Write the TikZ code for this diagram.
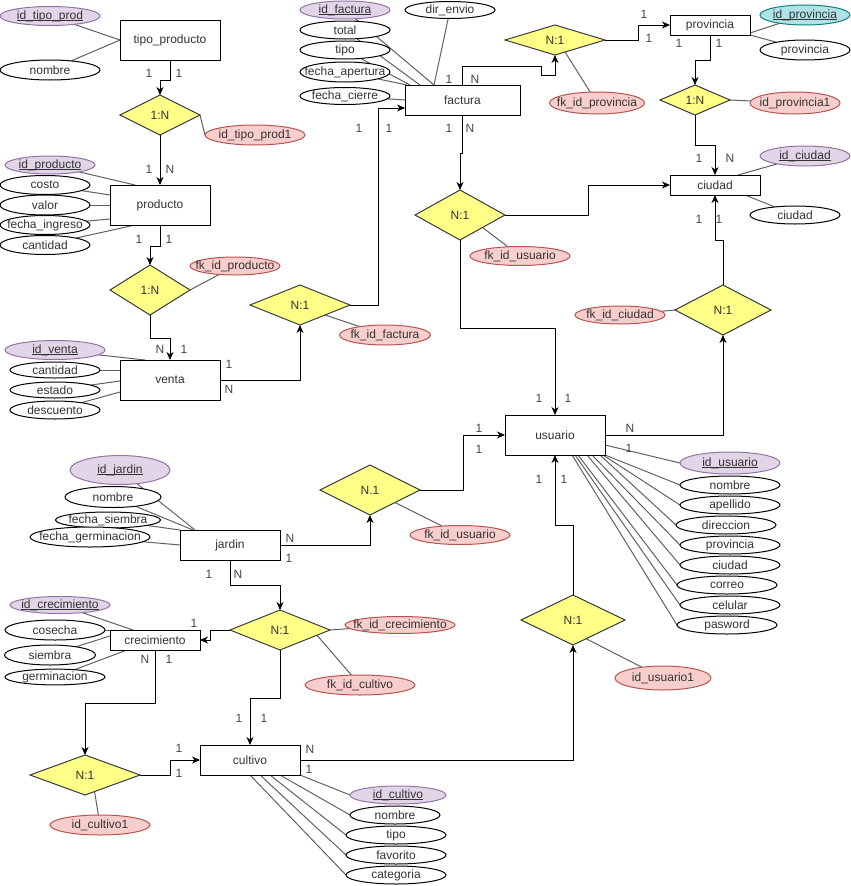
\documentclass[tikz,border=0pt]{standalone}
\usepackage{fontspec}
\setmainfont{Liberation Sans}
\usetikzlibrary{shapes.geometric,arrows.meta}
\definecolor{purpF}{HTML}{E1D5E7}
\definecolor{purpD}{HTML}{9673A6}
\definecolor{redF}{HTML}{F8CECC}
\definecolor{redD}{HTML}{B85450}
\definecolor{yelF}{HTML}{FFFF88}
\definecolor{yelD}{HTML}{36393D}
\definecolor{cyF}{HTML}{B0E3E6}
\definecolor{cyD}{HTML}{0E8088}
\definecolor{txt}{HTML}{333333}
\pgfdeclarelayer{links}
\pgfsetlayers{links,main}
\newcommand\atxt[1]{\makebox[0pt]{#1}}
% key attributes: a rule through the underscores, as an underline
\newcommand\ukey[1]{\makebox[0pt]{\setbox0\hbox{#1}\rlap{\rule[-2.1pt]{\wd0}{0.8pt}}\box0}}
\begin{document}
\begin{tikzpicture}[x=1pt,y=-1pt,
  font=\fontsize{12}{14}\selectfont,
  ent/.style 2 args={draw=black, fill=white, line width=1pt, minimum width=#1pt, minimum height=#2pt, inner sep=0pt, outer sep=0pt, text=txt},
  rel/.style 2 args={diamond, draw=yelD, fill=yelF, line width=1pt, minimum width=#1pt, minimum height=#2pt, inner sep=0pt, outer sep=0pt, text=txt},
  att/.style 2 args={ellipse, draw=black, fill=white, line width=1pt, minimum width=#1pt, minimum height=#2pt, inner sep=0pt, outer sep=0pt, text=txt},
  pk/.style 2 args={att={#1}{#2}, draw=purpD, fill=purpF},
  pkc/.style 2 args={att={#1}{#2}, draw=cyD, fill=cyF},
  fk/.style 2 args={att={#1}{#2}, draw=redD, fill=redF},
  lnk/.style={draw=black!62, line width=1pt},
  conn/.style={draw=black, line width=1pt, -{Stealth[length=8pt,width=7pt,inset=2.5pt]}},
  lbl/.style={inner sep=0pt, text=black!72}
]
\begin{pgfonlayer}{links}
\fill[white] (0,0) rectangle (851,886);
\end{pgfonlayer}
\useasboundingbox (0,0) rectangle (851,886);

% ---------- entities ----------
\node[ent={100}{40}] (tp) at (170,40) {tipo\_producto};
\node[ent={100}{40}] (pr) at (160,205) {producto};
\node[ent={100}{40}] (ve) at (170,380) {venta};
\node[ent={115}{30}] (fa) at (462.5,100) {factura};
\node[ent={80}{20}] (pv) at (710,25) {provincia};
\node[ent={90}{20}] (ci) at (715,185) {ciudad};
\node[ent={100}{40}] (us) at (555,435) {usuario};
\node[ent={100}{30}] (ja) at (230,545) {jardin};
\node[ent={90}{20}] (cr) at (155,640) {crecimiento};
\node[ent={100}{30}] (cu) at (250,760) {cultivo};

% ---------- relationships ----------
\node[rel={80}{40}] (r1) at (160,115) {1:N};
\node[rel={80}{50}] (r2) at (150,290) {1:N};
\node[rel={100}{40}] (r3) at (300,305) {N:1};
\node[rel={100}{30}] (r4) at (555,40) {N:1};
\node[rel={70}{30}] (r5) at (695,100) {1:N};
\node[rel={90}{50}] (r6) at (460,215) {N:1};
\node[rel={96}{50}] (r7) at (723,310) {N:1};
\node[rel={100}{50}] (r8) at (370,490) {N.1};
\node[rel={100}{40}] (r9) at (280,630) {N:1};
\node[rel={110}{40}] (r10) at (85,775) {N:1};
\node[rel={104}{50}] (r11) at (573,620) {N:1};

% ---------- attribute ellipses ----------
\node[pk={100}{19}] (tpk) at (50,16) {\ukey{id\_tipo\_prod}};
\node[att={100}{20}] (tpnom) at (50,70) {\atxt{nombre}};
\node[fk={100}{20}] (fk1) at (255,135) {\atxt{id\_tipo\_prod1}};

\node[pk={90}{18}] (prk) at (50,165) {\ukey{id\_producto}};
\node[att={90}{19}] (prco) at (45,185) {\atxt{costo}};
\node[att={90}{20}] (prva) at (45,205) {\atxt{valor}};
\node[att={90}{19}] (prfe) at (45,225) {\atxt{fecha\_ingreso}};
\node[att={90}{19}] (prca) at (45,245) {\atxt{cantidad}};
\node[fk={90}{18}] (fk2) at (235,266) {\atxt{fk\_id\_producto}};

\node[pk={100}{19}] (vek) at (55,350) {\ukey{id\_venta}};
\node[att={90}{16}] (veca) at (55,370) {\atxt{cantidad}};
\node[att={90}{16}] (vees) at (55,390) {\atxt{estado}};
\node[att={90}{18}] (vede) at (55,410) {\atxt{descuento}};
\node[fk={91}{20}] (fk3) at (385,335) {\atxt{fk\_id\_factura}};

\node[pk={90}{18}] (fak) at (345,10) {\ukey{id\_factura}};
\node[att={90}{18}] (fato) at (345,30) {\atxt{total}};
\node[att={90}{18}] (fati) at (345,50) {\atxt{tipo}};
\node[att={90}{20}] (faap) at (345,72) {\atxt{fecha\_apertura}};
\node[att={90}{17}] (faci) at (345,96) {\atxt{fecha\_cierre}};
\node[att={90}{17}] (fadi) at (450,10) {\atxt{dir\_envio}};
\node[fk={95}{22}] (fk4) at (597,103) {\atxt{fk\_id\_provincia}};

\node[pkc={90}{20}] (pvk) at (805,15) {\ukey{id\_provincia}};
\node[att={90}{20}] (pvpv) at (805,50) {\atxt{provincia}};
\node[fk={90}{22}] (fk5) at (795,103) {\atxt{id\_provincia1}};
\node[pk={90}{20}] (cik) at (805,156) {\ukey{id\_ciudad}};
\node[att={90}{18}] (cici) at (795,215) {\atxt{ciudad}};
\node[fk={100}{19}] (fk6) at (520,256) {\atxt{fk\_id\_usuario}};
\node[fk={90}{18}] (fk7) at (620,315) {\atxt{fk\_id\_ciudad}};

\node[pk={100}{22}] (usk) at (730,463) {\ukey{id\_usuario}};
\node[att={100}{18}] (usno) at (730,485) {\atxt{nombre}};
\node[att={100}{18}] (usap) at (730,505) {\atxt{apellido}};
\node[att={100}{18}] (usdi) at (726,525) {\atxt{direccion}};
\node[att={100}{18}] (uspr) at (730,545) {\atxt{provincia}};
\node[att={100}{18}] (usci) at (730,565) {\atxt{ciudad}};
\node[att={100}{18}] (usco) at (727,585) {\atxt{correo}};
\node[att={100}{18}] (usce) at (730,605) {\atxt{celular}};
\node[att={100}{18}] (uspa) at (727,625) {\atxt{pasword}};

\node[pk={100}{29}] (jak) at (120,470) {\ukey{id\_jardin}};
\node[att={96}{21}] (jano) at (113,497) {\atxt{nombre}};
\node[att={105}{16}] (jasi) at (108,520) {\atxt{fecha\_siembra}};
\node[att={120}{20}] (jage) at (90,537) {\atxt{fecha\_germinacion}};
\node[fk={100}{19}] (fk8) at (460,535) {\atxt{fk\_id\_usuario}};

\node[pk={100}{17}] (crk) at (60,605) {\ukey{id\_crecimiento}};
\node[att={100}{20}] (crco) at (55,630) {\atxt{cosecha}};
\node[att={91}{20}] (crsi) at (50,655) {\atxt{siembra}};
\node[att={100}{15}] (crge) at (55,677) {\atxt{germinacion}};
\node[fk={110}{17}] (fk9) at (400,625) {\atxt{fk\_id\_crecimiento}};
\node[fk={110}{20}] (fk10) at (360,685) {\atxt{fk\_id\_cultivo}};
\node[fk={100}{20}] (fk11) at (100,825) {\atxt{id\_cultivo1}};

\node[pk={96}{18}] (cuk) at (398,795) {\ukey{id\_cultivo}};
\node[att={90}{18}] (cuno) at (395,815) {\atxt{nombre}};
\node[att={100}{18}] (cuti) at (396,835) {\atxt{tipo}};
\node[att={100}{18}] (cufa) at (396,855) {\atxt{favorito}};
\node[att={100}{18}] (cuca) at (396,875) {\atxt{categoria}};
\node[fk={96}{24}] (fk12) at (663,678) {\atxt{id\_usuario1}};

% ---------- attribute links (behind the shapes) ----------
\begin{pgfonlayer}{links}
\draw[lnk] (tpk) -- (tp.west);
\draw[lnk] (tpnom) -- (tp.west);
\draw[lnk] (r1.east) -- (fk1.west);

\draw[lnk] (prk) -- ([xshift=25pt]pr.north west);
\draw[lnk] (prco) -- ([yshift=-10pt]pr.north west);
\draw[lnk] (prva) -- (pr.west);
\draw[lnk] (prfe) -- ([yshift=6pt]pr.south west);
\draw[lnk] (prca) -- ([xshift=25pt]pr.south west);
\draw[lnk] (r2.east) -- (fk2);

\draw[lnk] (vek) -- ([xshift=25pt]ve.north west);
\draw[lnk] (veca) -- ([yshift=-10pt]ve.north west);
\draw[lnk] (vees) -- ([yshift=-21pt]ve.north west);
\draw[lnk] (vede) -- ([yshift=8pt]ve.south west);
\draw[lnk] (r3.south east) -- (fk3);

\draw[lnk] (fak) -- ([xshift=29pt]fa.north west);
\draw[lnk] (fato) -- ([xshift=15pt]fa.north west);
\draw[lnk] (fati) -- ([xshift=5pt]fa.north west);
\draw[lnk] (faap) -- ([xshift=2pt]fa.north west);
\draw[lnk] (faci) -- (fa.west);
\draw[lnk] (fadi) -- ([xshift=29pt]fa.north west);
\draw[lnk] (r4.-50) -- (fk4);

\draw[lnk] (pvk) -- ([yshift=2pt]pv.south east);
\draw[lnk] (pvpv) -- (pv.south east);
\draw[lnk] (r5.east) -- (fk5);
\draw[lnk] (cik) -- ([xshift=-22pt]ci.north east);
\draw[lnk] (cici) -- ([xshift=-15pt]ci.south east);
\draw[lnk] (r6.south east) -- (fk6);
\draw[lnk] (r7.west) -- (fk7);

\draw[lnk] (usk.west) -- ([yshift=-10pt]us.east);
\draw[lnk] (usno.west) -- (us.south east);
\draw[lnk] (usap.west) -- ([xshift=-2pt]us.south east);
\draw[lnk] (usdi.west) -- ([xshift=-5pt]us.south east);
\draw[lnk] (uspr.west) -- ([xshift=-13pt]us.south east);
\draw[lnk] (usci.west) -- ([xshift=-18pt]us.south east);
\draw[lnk] (usco.west) -- ([xshift=-27pt]us.south east);
\draw[lnk] (usce.west) -- ([xshift=-30pt]us.south east);
\draw[lnk] (uspa.west) -- ([xshift=-33pt]us.south east);

\draw[lnk] (jak) -- ([xshift=15pt]ja.north west);
\draw[lnk] (jano) -- ([xshift=13pt]ja.north west);
\draw[lnk] (jasi) -- (ja.north west);
\draw[lnk] (jage) -- (ja.west);
\draw[lnk] (r8.south east) -- (fk8);

\draw[lnk] (crk) -- ([xshift=23pt]cr.north west);
\draw[lnk] (crco) -- (cr.north west);
\draw[lnk] (crsi) -- ([yshift=-6pt]cr.north west);
\draw[lnk] (crge) -- ([xshift=17pt]cr.south west);
\draw[lnk] (r9.east) -- (fk9);
\draw[lnk] (r9.-8) -- (fk10);
\draw[lnk] (r10.-60) -- (fk11);

\draw[lnk] (cuk.west) -- (cu.south east);
\draw[lnk] (cuno.west) -- ([xshift=-20pt]cu.south east);
\draw[lnk] (cuti.west) -- ([xshift=-30pt]cu.south east);
\draw[lnk] (cufa.west) -- ([xshift=-40pt]cu.south east);
\draw[lnk] (cuca.west) -- (cu.south);
\draw[lnk] (r11.-55) -- (fk12);
\end{pgfonlayer}

% ---------- connectors ----------
\draw[conn] (tp.south) -- ++(0,20) -| (r1.north);
\draw[conn] (r1.south) -- (pr.north);
\draw[conn] (pr.south) -- ++(0,21) -| (r2.north);
\draw[conn] (r2.south) -- ++(0,23) -| (ve.north);
\draw[conn] (ve.east) -| (r3.south);
\draw[conn] (r3.east) -- ++(28,0) |- ([yshift=-8pt]fa.west);
\draw[conn] (fa.north) -- ++(0,-19) -- ++(78.5,0) -- ++(0,9) -| (r4.south);
\draw[conn] (r4.east) -- ++(33,0) |- (pv.west);
\draw[conn] (pv.south) -- ++(0,25) -| (r5.north);
\draw[conn] (r5.south) -- ++(0,30) -| (ci.north);
\draw[conn] (fa.south) -- ++(0,38) -| (r6.north);
\draw[conn] (r6.east) -- ++(83,0) |- (ci.west);
\draw[conn] (r6.south) -- ++(0,88) -| (us.north);
\draw[conn] (us.east) -| (r7.south);
\draw[conn] (r7.north) -- ++(0,-45) -| (ci.south);
\draw[conn] (ja.east) -| (r8.south);
\draw[conn] (r8.east) -- ++(43,0) |- (us.west);
\draw[conn] (ja.south) -- ++(0,25) -| (r9.north);
\draw[conn] (r9.west) -- ++(-20,0) |- (cr.east);
\draw[conn] (r9.south) -- ++(0,48) -| (cu.north);
\draw[conn] (cr.south) -- ++(0,53) -| (r10.north);
\draw[conn] (r10.east) -- ++(30,0) |- (cu.west);
\draw[conn] (cu.east) -| (r11.south);
\draw[conn] (r11.north) -- ++(0,-70) -| (us.south);

% ---------- cardinality labels ----------
\node[lbl] (k1a) at (149,73) {1};
\node[lbl] (k1b) at (179,73) {1};
\node[lbl] (k2a) at (149,169) {1};
\node[lbl] (k2b) at (170,169) {N};
\node[lbl] (k3a) at (139,239) {1};
\node[lbl] (k3b) at (169,239) {1};
\node[lbl] (k4a) at (160,349) {N};
\node[lbl] (k4b) at (184,349) {1};
\node[lbl] (k5a) at (229,364) {1};
\node[lbl] (k5b) at (229,389) {N};
\node[lbl] (k6a) at (359,128) {1};
\node[lbl] (k6b) at (389,128) {1};
\node[lbl] (k7a) at (449,79) {1};
\node[lbl] (k7b) at (475,79) {N};
\node[lbl] (k8a) at (644,14) {1};
\node[lbl] (k8b) at (649,38) {1};
\node[lbl] (k9a) at (679,43) {1};
\node[lbl] (k9b) at (719,43) {1};
\node[lbl] (k10a) at (699,158) {1};
\node[lbl] (k10b) at (730,158) {N};
\node[lbl] (k11a) at (449,128) {1};
\node[lbl] (k11b) at (470,128) {N};
\node[lbl] (k13a) at (539,398) {1};
\node[lbl] (k13b) at (568,398) {1};
\node[lbl] (k14a) at (630,428) {N};
\node[lbl] (k14b) at (629,448) {1};
\node[lbl] (k15a) at (699,219) {1};
\node[lbl] (k15b) at (719,219) {1};
\node[lbl] (k16a) at (290,538) {N};
\node[lbl] (k16b) at (289,558) {1};
\node[lbl] (k17a) at (479,428) {1};
\node[lbl] (k17b) at (479,449) {1};
\node[lbl] (k18a) at (209,574) {1};
\node[lbl] (k18b) at (238,574) {N};
\node[lbl] (k19a) at (194,623) {1};
\node[lbl] (k20a) at (239,718) {1};
\node[lbl] (k20b) at (264,718) {1};
\node[lbl] (k21a) at (145,659) {N};
\node[lbl] (k21b) at (169,659) {1};
\node[lbl] (k22a) at (179,748) {1};
\node[lbl] (k22b) at (179,773) {1};
\node[lbl] (k23a) at (310,749) {N};
\node[lbl] (k23b) at (309,769) {1};
\node[lbl] (k24a) at (539,479) {1};
\node[lbl] (k24b) at (564,479) {1};
\end{tikzpicture}
\end{document}
